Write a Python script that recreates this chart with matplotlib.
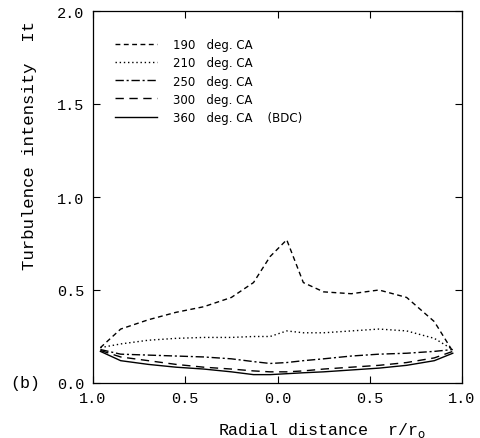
import matplotlib
matplotlib.use("Agg")
import matplotlib.pyplot as plt

# radial positions (left side negative, plotted as 1.0 .. 0.0 .. 1.0)
r = [-0.96, -0.85, -0.7, -0.55, -0.4, -0.25, -0.13, -0.04, 0.05,
     0.14, 0.25, 0.4, 0.55, 0.7, 0.85, 0.95]

it_190 = [0.19, 0.29, 0.34, 0.38, 0.41, 0.46, 0.54, 0.68, 0.77,
          0.54, 0.49, 0.48, 0.50, 0.46, 0.33, 0.17]
it_210 = [0.19, 0.21, 0.23, 0.24, 0.245, 0.245, 0.25, 0.25, 0.28,
          0.27, 0.27, 0.28, 0.29, 0.28, 0.24, 0.18]
it_250 = [0.18, 0.155, 0.15, 0.145, 0.14, 0.13, 0.115, 0.105, 0.11,
          0.12, 0.13, 0.145, 0.155, 0.16, 0.17, 0.18]
it_300 = [0.175, 0.14, 0.12, 0.10, 0.085, 0.075, 0.065, 0.06, 0.06,
          0.065, 0.075, 0.085, 0.095, 0.11, 0.135, 0.17]
it_360 = [0.17, 0.12, 0.10, 0.085, 0.075, 0.06, 0.045, 0.045, 0.05,
          0.055, 0.06, 0.07, 0.08, 0.095, 0.12, 0.16]

labels = ["190   deg. CA", "210   deg. CA", "250   deg. CA",
          "300   deg. CA", "360   deg. CA    (BDC)"]
xtick_pos = [-1.0, -0.5, 0.0, 0.5, 1.0]
xtick_lab = ["1.0", "0.5", "0.0", "0.5", "1.0"]
ytick_pos = [0.0, 0.5, 1.0, 1.5, 2.0]
ytick_lab = ["0.0", "0.5", "1.0", "1.5", "2.0"]

mono = "Liberation Mono"

fig = plt.figure(figsize=(4.81, 4.39), dpi=100)
ax = fig.add_axes([93 / 481, 1 - 384 / 439, 369 / 481, 372 / 439])

styles = [(0, (3.5, 2.5)), (0, (1, 2)), (0, (6, 2, 1.5, 2)), (0, (6, 4)), "-"]
series = [it_190, it_210, it_250, it_300, it_360]
for ys, ls, lab in zip(series, styles, labels):
    ax.plot(r, ys, color="black", lw=1.0, linestyle=ls, label=lab)

ax.set_xlim(-1, 1)
ax.set_ylim(0, 2.0)
ax.set_xticks(xtick_pos)
ax.set_xticklabels(xtick_lab, fontfamily=mono, fontsize=11)
ax.set_yticks(ytick_pos)
ax.set_yticklabels(ytick_lab, fontfamily=mono, fontsize=11)
ax.tick_params(direction="in", length=5, width=0.8, top=True, right=True, pad=6)
for s in ax.spines.values():
    s.set_linewidth(0.9)

ax.set_xlabel("Radial distance  r/r$_\\mathrm{o}$", fontfamily=mono,
              fontsize=12)
ax.xaxis.set_label_coords(0.62, -0.1)
fig.text(30 / 481, 1 - 146 / 439, "Turbulence intensity  It",
         rotation=90, ha="center", va="center", fontfamily=mono, fontsize=12.5)
fig.text(25 / 481, 1 - 384 / 439, "(b)", ha="center", va="center",
         fontfamily=mono, fontsize=12)

ax.legend(loc="upper left", bbox_to_anchor=(0.03, 0.955), frameon=False,
          handlelength=3.6, handletextpad=1.3, labelspacing=0.43,
          prop={"family": "DejaVu Sans", "size": 8.5})

fig.savefig("out.png", dpi=100)
